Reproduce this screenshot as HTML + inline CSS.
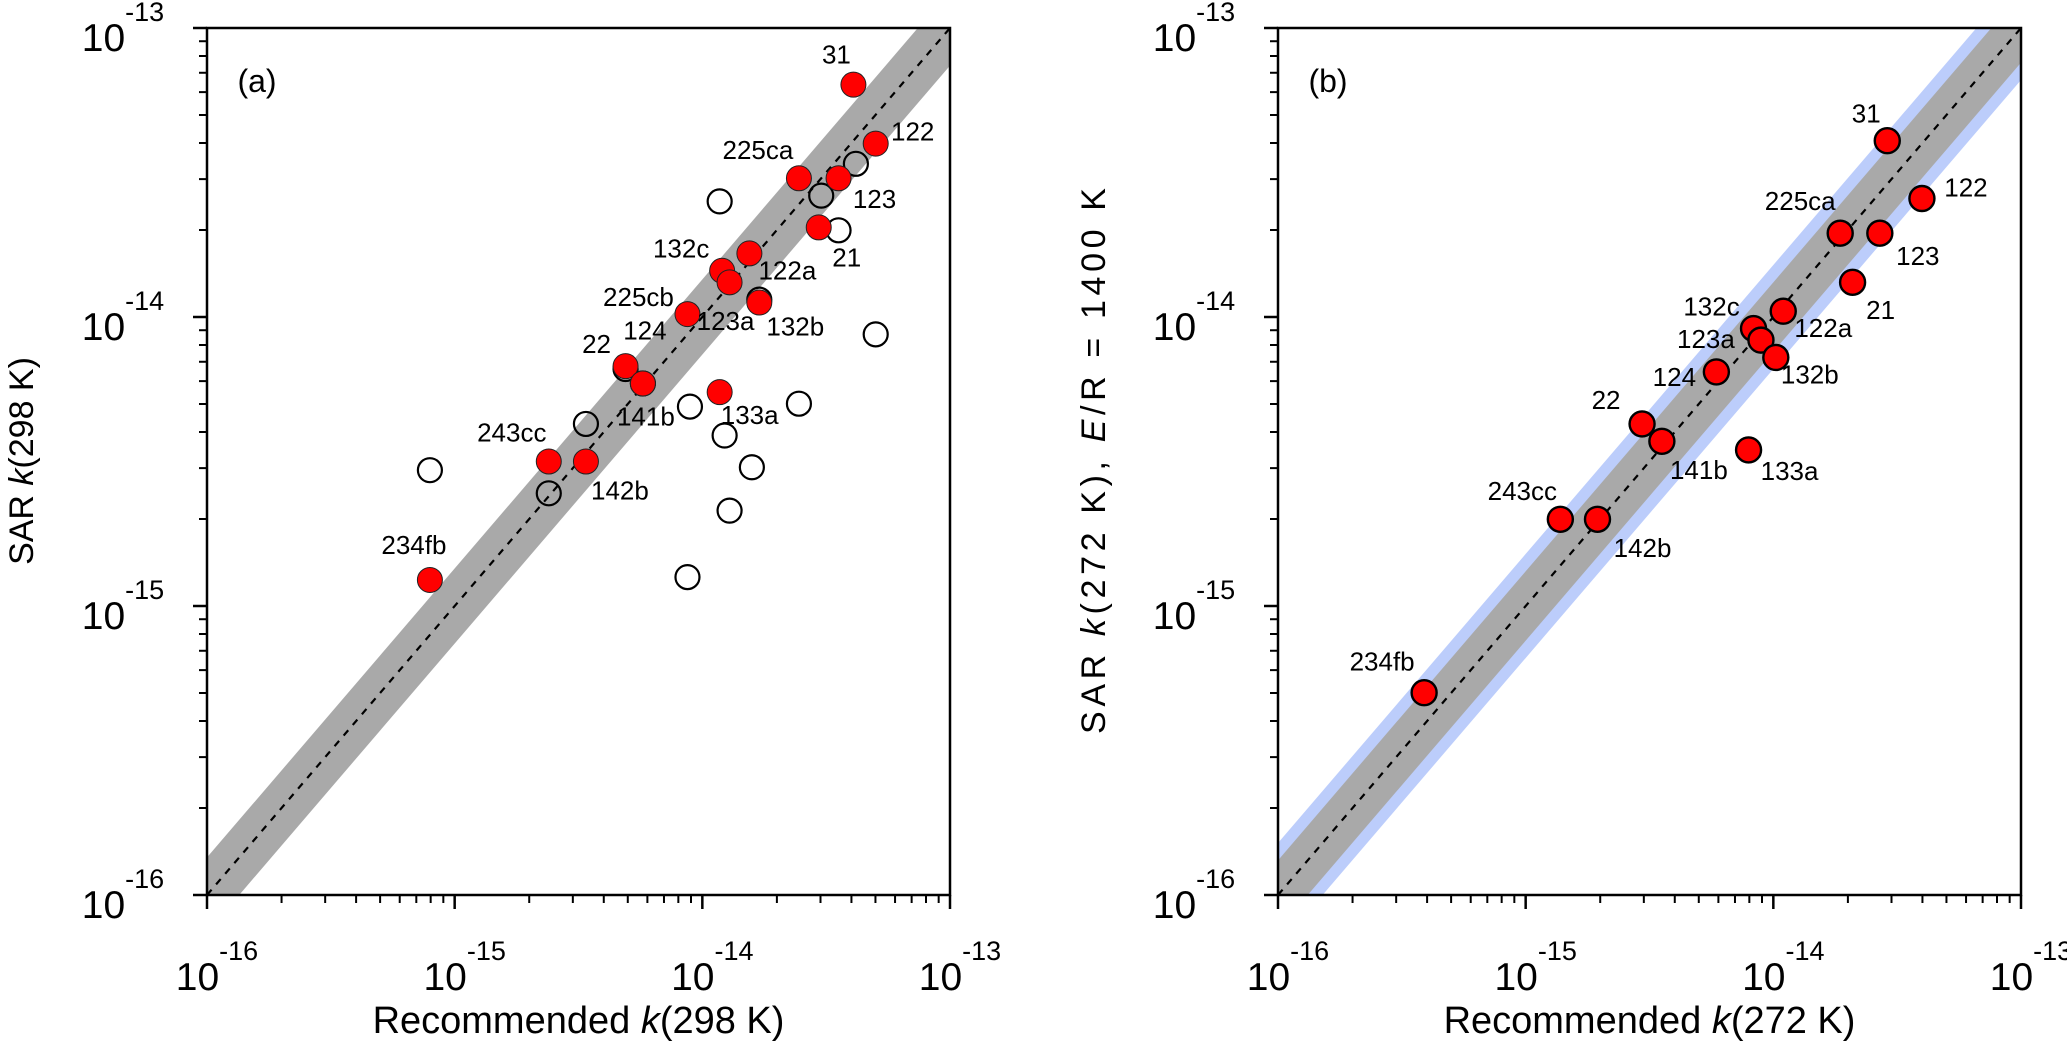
<!DOCTYPE html>
<html><head><meta charset="utf-8"><style>
html,body{margin:0;padding:0;background:#fff;}
svg{display:block;font-family:"Liberation Sans",Arial,sans-serif;}
</style></head><body>
<svg id="chart" width="2067" height="1044" viewBox="0 0 2067 1044"></svg>
<script>
// ---- data (log10 values) ----
const aRedNames = ["31","122","225ca","123","21","132c","122a","225cb","123a","132b","124","22","141b","133a","243cc","142b","234fb"];
const aRedX = [-13.39,-13.30,-13.61,-13.45,-13.53,-13.92,-13.81,-14.06,-13.89,-13.77,-14.24,-14.31,-14.24,-13.93,-14.62,-14.47,-15.10];
const aRedY = [-13.196,-13.40,-13.52,-13.52,-13.69,-13.84,-13.78,-13.99,-13.88,-13.95,-14.23,-14.17,-14.23,-14.26,-14.50,-14.50,-14.91];
const aLabelDX = [-17,37,-41,36,28,-41,38,-49,-4,36,2,-29,3,30,-37,34,-16];
const aLabelDY = [-28,-10,-26,23,32,-20,19,-15,41,26,-51,-20,35,25,-27,31,-33];
const aOpenX = [-13.38,-13.52,-13.93,-13.45,-13.77,-13.30,-14.31,-14.24,-14.05,-13.61,-14.47,-13.91,-13.80,-15.10,-14.62,-13.89,-14.06];
const aOpenY = [-13.47,-13.58,-13.60,-13.70,-13.94,-14.06,-14.18,-14.23,-14.31,-14.30,-14.37,-14.41,-14.52,-14.53,-14.61,-14.67,-14.90];
const bNames = ["31","122","225ca","123","21","122a","132c","123a","132b","124","22","141b","133a","243cc","142b","234fb"];
const bX = [-13.54,-13.40,-13.73,-13.57,-13.68,-13.96,-14.08,-14.05,-13.99,-14.23,-14.53,-14.45,-14.10,-14.86,-14.71,-15.41];
const bY = [-13.39,-13.59,-13.71,-13.71,-13.88,-13.98,-14.04,-14.08,-14.14,-14.19,-14.37,-14.43,-14.46,-14.70,-14.70,-15.30];
const bLabelDX = [-21,44,-40,38,28,40,-42,-55,34,-42,-36,37,41,-38,45,-42];
const bLabelDY = [-25,-9,-30,25,30,19,-20,1,19,7,-22,31,23,-26,31,-29];
const decades = [-16,-15,-14,-13];
const tickExps = ["-16","-15","-14","-13"];

const NS="http://www.w3.org/2000/svg";
const svg=document.getElementById('chart');
function mk(tag,attrs,parent){const e=document.createElementNS(NS,tag);for(const k in attrs)e.setAttribute(k,attrs[k]);(parent||svg).appendChild(e);return e;}

function panel(opt){
  const g=mk('g',{});
  
  
  const L=opt.x0,R=opt.x0+743,T=28,B=895;
  const sx=v=>L+(v+16)/3*(R-L);
  const sy=v=>B-(v+16)/3*(B-T);
  const clip=mk('clipPath',{id:'clip'+opt.id},g);
  mk('rect',{x:L,y:T,width:R-L,height:B-T},clip);
  const pg=mk('g',{'clip-path':'url(#clip'+opt.id+')'},g);
  function band(d,color,nm){
    const p=mk('polygon',{points:[[sx(-16.5),sy(-16.5+d)],[sx(-12.5),sy(-12.5+d)],[sx(-12.5),sy(-12.5-d)],[sx(-16.5),sy(-16.5-d)]].map(q=>q.join(',')).join(' '),fill:color},pg);
    
    
  }
  if(opt.blue) band(0.18,'#bccdfb','uncertainty-band-outer');
  band(opt.gray,'#a9a9a9','uncertainty-band');
  const ln=mk('line',{x1:sx(-16),y1:sy(-16),x2:sx(-13),y2:sy(-13),stroke:'#000','stroke-width':2.2,'stroke-dasharray':'7,7'},pg);
  
  
  (opt.openX||[]).forEach((v,i)=>{
    const c=mk('circle',{cx:sx(v),cy:sy(opt.openY[i]),r:12,fill:'none',stroke:'#000','stroke-width':2.2},pg);
    
    
  });
  opt.redX.forEach((v,i)=>{
    const c=mk('circle',{cx:sx(v),cy:sy(opt.redY[i]),r:12.5,fill:'#ff0000',stroke:opt.id=='b'?'#000':'#222','stroke-width':opt.id=='b'?2.4:1},pg);
    
    
  });
  opt.redX.forEach((v,i)=>{
    const t=mk('text',{x:sx(v)+opt.ldx[i],y:sy(opt.redY[i])+opt.ldy[i],'font-size':26,'text-anchor':'middle','dominant-baseline':'middle'},g);
    t.textContent=opt.names[i];
    
    
  });
  const fr=mk('rect',{x:L,y:T,width:R-L,height:B-T,fill:'none',stroke:'#000','stroke-width':2.5},g);
  
  
  decades.forEach((d,di)=>{
    mk('line',{x1:sx(d),y1:B,x2:sx(d),y2:B+14,stroke:'#000','stroke-width':2.5},g);
    mk('line',{x1:L,y1:sy(d),x2:L-14,y2:sy(d),stroke:'#000','stroke-width':2.5},g);
    if(di<3){for(let m=2;m<=9;m++){const lv=d+Math.log10(m);
      mk('line',{x1:sx(lv),y1:B,x2:sx(lv),y2:B+8,stroke:'#000','stroke-width':2},g);
      mk('line',{x1:L,y1:sy(lv),x2:L-8,y2:sy(lv),stroke:'#000','stroke-width':2},g);}}
    const xt=mk('text',{x:sx(d)+10,y:990,'font-size':39,'text-anchor':'middle'},g);
    xt.innerHTML='10<tspan dy="-30" font-size="27">'+tickExps[di]+'</tspan>';
    
    
    const yt=mk('text',{x:L-84,y:sy(d)+23,'font-size':39,'text-anchor':'middle'},g);
    yt.innerHTML='10<tspan dy="-30" font-size="27">'+tickExps[di]+'</tspan>';
    
    
  });
  const pl=mk('text',{x:L+50,y:92,'font-size':32,'text-anchor':'middle'},g);
  pl.textContent=opt.panelLabel;
  
  
  const xtl=mk('text',{x:(L+R)/2,y:1033,'font-size':38,'text-anchor':'middle'},g);
  xtl.innerHTML=opt.xTitle;
  
  
  const ytlAttrs={x:0,y:0,'font-size':34,'text-anchor':'middle',transform:'translate('+opt.yTitleX+',461) rotate(-90)'};
  if(opt.yLen){ytlAttrs.textLength=opt.yLen;ytlAttrs.lengthAdjust='spacing';}
  const ytl=mk('text',ytlAttrs,g);
  ytl.innerHTML=opt.yTitle;
  
  
}
panel({id:'a',name:'panel-a',x0:207,gray:0.13,blue:false,redX:aRedX,redY:aRedY,names:aRedNames,ldx:aLabelDX,ldy:aLabelDY,openX:aOpenX,openY:aOpenY,panelLabel:'(a)',xTitle:'Recommended <tspan font-style="italic">k</tspan>(298 K)',yTitle:'SAR <tspan font-style="italic">k</tspan>(298 K)',yTitleX:33});
panel({id:'b',name:'panel-b',x0:1278,gray:0.12,blue:true,redX:bX,redY:bY,names:bNames,ldx:bLabelDX,ldy:bLabelDY,panelLabel:'(b)',xTitle:'Recommended <tspan font-style="italic">k</tspan>(272 K)',yTitle:'SAR <tspan font-style="italic">k</tspan>(272 K),  <tspan font-style="italic">E</tspan>/R = 1400 K',yTitleX:1105,yLen:546});
</script>
</body></html>
